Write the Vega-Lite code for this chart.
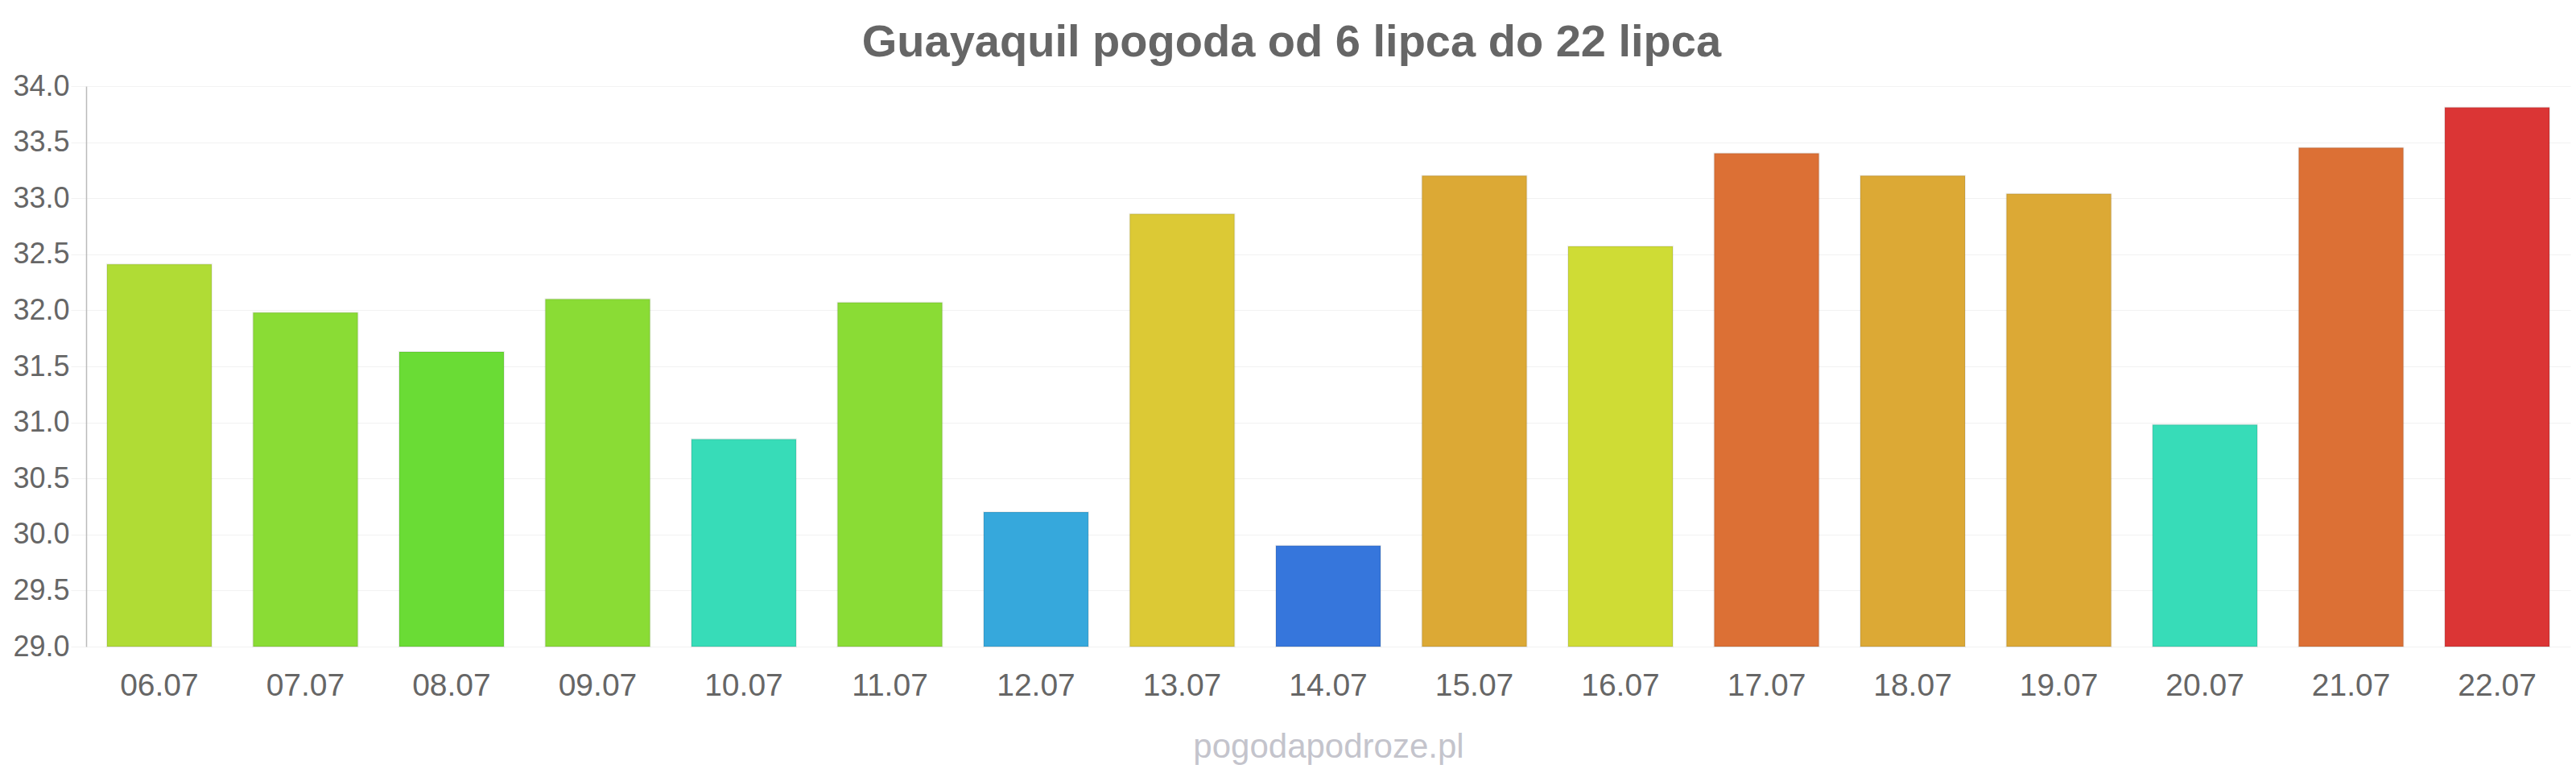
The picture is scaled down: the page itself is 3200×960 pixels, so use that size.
{
  "$schema": "https://vega.github.io/schema/vega-lite/v6.json",
  "autosize": {"type": "none"},
  "width": 3086,
  "height": 696,
  "padding": {"left": 107, "top": 107, "right": 7, "bottom": 157},
  "background": "white",
  "title": {
    "text": "Guayaquil pogoda od 6 lipca do 22 lipca",
    "font": "Liberation Sans",
    "fontSize": 56,
    "fontWeight": "bold",
    "color": "#666666",
    "anchor": "middle",
    "frame": "bounds",
    "baseline": "alphabetic",
    "offset": 30,
    "dy": 67
  },
  "data": {
    "values": [
      {"date": "06.07", "temp": 32.41},
      {"date": "07.07", "temp": 31.98},
      {"date": "08.07", "temp": 31.63},
      {"date": "09.07", "temp": 32.10},
      {"date": "10.07", "temp": 30.85},
      {"date": "11.07", "temp": 32.07},
      {"date": "12.07", "temp": 30.20},
      {"date": "13.07", "temp": 32.86},
      {"date": "14.07", "temp": 29.90},
      {"date": "15.07", "temp": 33.20},
      {"date": "16.07", "temp": 32.57},
      {"date": "17.07", "temp": 33.40},
      {"date": "18.07", "temp": 33.20},
      {"date": "19.07", "temp": 33.04},
      {"date": "20.07", "temp": 30.98},
      {"date": "21.07", "temp": 33.45},
      {"date": "22.07", "temp": 33.81}
    ]
  },
  "mark": {
    "type": "bar",
    "stroke": "#000000",
    "strokeOpacity": 0.08,
    "strokeWidth": 2
  },
  "encoding": {
    "x": {
      "field": "date",
      "type": "ordinal",
      "sort": null,
      "scale": {"paddingInner": 0.284, "paddingOuter": 0.143},
      "axis": {
        "title": "pogodapodroze.pl",
        "titleFont": "Liberation Sans",
        "titleFontSize": 42,
        "titleFontWeight": "normal",
        "titleColor": "#c4c4cc",
        "titlePadding": 36,
        "labelFont": "Liberation Sans",
        "labelFontSize": 39,
        "labelColor": "#666666",
        "labelAngle": 0,
        "labelPadding": 29,
        "ticks": false,
        "domain": false,
        "grid": false
      }
    },
    "y": {
      "field": "temp",
      "type": "quantitative",
      "scale": {"domain": [29, 34], "nice": false, "zero": false},
      "axis": {
        "title": null,
        "values": [29, 29.5, 30, 30.5, 31, 31.5, 32, 32.5, 33, 33.5, 34],
        "format": ".1f",
        "labelFont": "Liberation Sans",
        "labelFontSize": 36,
        "labelColor": "#666666",
        "labelPadding": 2,
        "tickSize": 19,
        "tickColor": "#f2f2f2",
        "gridColor": "#f2f2f2",
        "gridWidth": 1,
        "domainColor": "#bbbbbb",
        "domainWidth": 1.5
      }
    },
    "y2": {"datum": 29},
    "color": {
      "field": "temp",
      "type": "quantitative",
      "legend": null,
      "scale": {
        "type": "threshold",
        "domain": [30.0, 30.5, 31.5, 31.8, 32.3, 32.5, 32.7, 33.0, 33.3, 33.6],
        "range": ["#3676dc", "#36a8dc", "#37dcb8", "#6adc35", "#8adc35", "#b0dc35", "#cfdc35", "#dcc935", "#dca935", "#dc7035", "#db3535"]
      }
    }
  },
  "config": {
    "view": {"stroke": null},
    "axis": {"gridCap": "butt"}
  }
}
